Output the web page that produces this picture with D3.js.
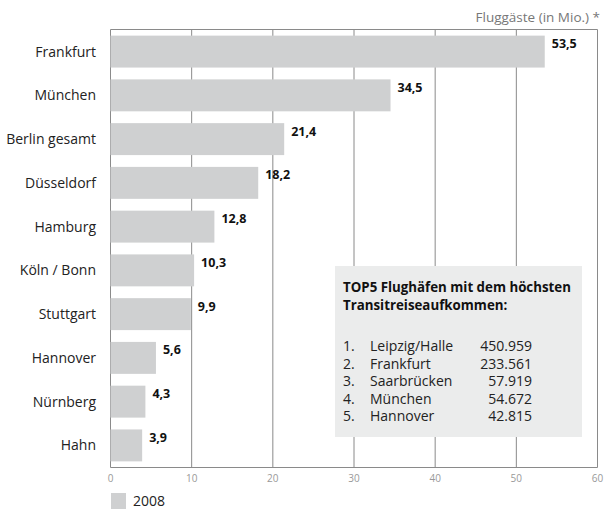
<!DOCTYPE html>
<html lang="de">
<head>
  <meta charset="utf-8">
  <title>Fluggäste 2008</title>
  <script src="https://cdn.jsdelivr.net/npm/d3@7/dist/d3.min.js"></script>
  <style>
    body { margin: 0; background: #fff; }
    text { font-family: "Open Sans", sans-serif; }
  </style>
</head>
<body>
  <svg class="chart" width="607" height="510"></svg>
  <script>
    var airports = ["Frankfurt", "München", "Berlin gesamt", "Düsseldorf", "Hamburg",
                    "Köln / Bonn", "Stuttgart", "Hannover", "Nürnberg", "Hahn"];
    var passengers = [53.5, 34.5, 21.4, 18.2, 12.8, 10.3, 9.9, 5.6, 4.3, 3.9];
    var xTicks = [0, 10, 20, 30, 40, 50, 60];

    var transitRank = ["1.", "2.", "3.", "4.", "5."];
    var transitNames = ["Leipzig/Halle", "Frankfurt", "Saarbrücken", "München", "Hannover"];
    var transitValues = ["450.959", "233.561", "57.919", "54.672", "42.815"];

    var plotTop = 29.5, plotBottom = 467.5;
    var fmt = d3.format(".1f");

    var svg = d3.select("svg.chart");

    var x = d3.scaleLinear()
              .domain([0, 60])
              .range([110.5, 597.5]);

    var y = d3.scaleBand()
              .domain(airports)
              .range([plotTop, plotBottom])
              .paddingInner(0.27)
              .paddingOuter(0.14);

    // grid
    svg.append("g")
       .selectAll("line")
       .data(xTicks)
       .enter().append("line")
       .attr("x1", function(d) { return x(d); })
       .attr("x2", function(d) { return x(d); })
       .attr("y1", plotTop)
       .attr("y2", plotBottom)
       .attr("stroke", "#8a8a8a")
       .attr("stroke-width", 1);

    // frame top and bottom
    svg.append("g")
       .selectAll("line")
       .data([plotTop, plotBottom])
       .enter().append("line")
       .attr("x1", x(0)).attr("x2", x(60))
       .attr("y1", function(d) { return d; })
       .attr("y2", function(d) { return d; })
       .attr("stroke", "#8a8a8a");

    svg.append("g")
       .selectAll("text")
       .data(xTicks)
       .enter().append("text")
       .attr("x", function(d) { return x(d); })
       .attr("y", 482)
       .attr("text-anchor", "middle")
       .attr("font-size", 10)
       .attr("fill", "#999")
       .text(function(d) { return d; });

    // bars
    svg.append("g")
       .selectAll("rect")
       .data(passengers)
       .enter().append("rect")
       .attr("x", x(0))
       .attr("y", function(d, i) { return y(airports[i]); })
       .attr("width", function(d) { return x(d) - x(0); })
       .attr("height", y.bandwidth())
       .attr("fill", "#cfd0d1");

    // value labels
    svg.append("g")
       .selectAll("text")
       .data(passengers)
       .enter().append("text")
       .attr("x", function(d) { return x(d) + 7; })
       .attr("y", function(d, i) { return y(airports[i]) + 12.5; })
       .attr("font-size", 12.5)
       .attr("font-weight", "bold")
       .attr("fill", "#111")
       .text(function(d) { return fmt(d).replace(".", ","); });

    // category labels
    svg.append("g")
       .selectAll("text")
       .data(airports)
       .enter().append("text")
       .attr("x", 96)
       .attr("y", function(d) { return y(d) + y.bandwidth() / 2 + 5; })
       .attr("text-anchor", "end")
       .attr("font-size", 14)
       .attr("fill", "#222")
       .text(function(d) { return d; });

    // unit title
    svg.append("text")
       .attr("x", 600)
       .attr("y", 22)
       .attr("text-anchor", "end")
       .attr("font-size", 13.5)
       .attr("fill", "#777")
       .text("Fluggäste (in Mio.) *");

    // info box
    var box = svg.append("g");
    box.append("rect")
       .attr("x", 335).attr("y", 266)
       .attr("width", 247).attr("height", 171)
       .attr("fill", "#ebecec");

    box.append("text")
       .attr("x", 343).attr("y", 292)
       .attr("font-size", 13.3).attr("font-weight", "bold").attr("fill", "#111")
       .text("TOP5 Flughäfen mit dem höchsten");
    box.append("text")
       .attr("x", 343).attr("y", 310)
       .attr("font-size", 13.3).attr("font-weight", "bold").attr("fill", "#111")
       .text("Transitreiseaufkommen:");

    var rowY = function(i) { return 351 + i * 17.5; };
    box.selectAll("text.rank")
       .data(transitRank)
       .enter().append("text")
       .attr("class", "rank")
       .attr("x", 343).attr("y", function(d, i) { return rowY(i); })
       .attr("font-size", 14).attr("fill", "#222")
       .text(function(d) { return d; });
    box.selectAll("text.name")
       .data(transitNames)
       .enter().append("text")
       .attr("class", "name")
       .attr("x", 370).attr("y", function(d, i) { return rowY(i); })
       .attr("font-size", 14).attr("fill", "#222")
       .text(function(d) { return d; });
    box.selectAll("text.val")
       .data(transitValues)
       .enter().append("text")
       .attr("class", "val")
       .attr("x", 532).attr("y", function(d, i) { return rowY(i); })
       .attr("text-anchor", "end")
       .attr("font-size", 14).attr("fill", "#222")
       .text(function(d) { return d; });

    // legend
    svg.append("rect")
       .attr("x", 111).attr("y", 493)
       .attr("width", 15).attr("height", 16)
       .attr("fill", "#cfd0d1");
    svg.append("text")
       .attr("x", 133).attr("y", 506)
       .attr("font-size", 14).attr("fill", "#222")
       .text("2008");
  </script>
</body>
</html>
